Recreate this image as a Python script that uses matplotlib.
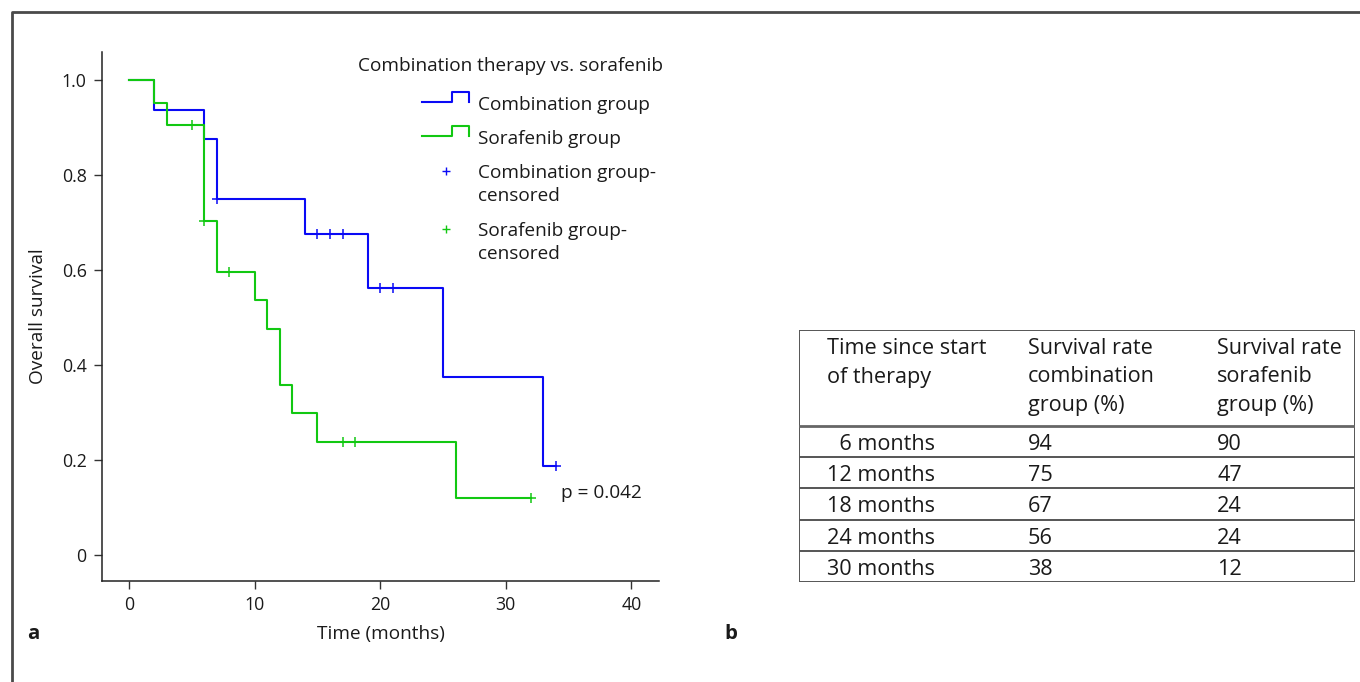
import matplotlib.pyplot as plt
import numpy as np
from matplotlib.lines import Line2D

plt.rcParams["font.family"] = ["Open Sans", "DejaVu Sans"]

# Kaplan-Meier curves: event times (months) and survival after each step
combo_times = [0, 2, 6, 7, 14, 19, 25, 33, 34]
combo_surv = [1.0, 0.9375, 0.875, 0.75, 0.675, 0.5625, 0.375, 0.1875, 0.1875]
combo_censored = [7, 15, 16, 17, 20, 21, 34]

sora_times = [0, 2, 3, 6, 7, 10, 11, 12, 13, 15, 26, 32]
sora_surv = [1.0, 0.952, 0.905, 0.704, 0.595, 0.536, 0.476, 0.357, 0.298, 0.238, 0.119, 0.119]
sora_censored = [5, 6, 8, 17, 18, 32]

p_value = 0.042

# survival table (panel b)
table_header = [
    "Time since start\nof therapy",
    "Survival rate\ncombination\ngroup (%)",
    "Survival rate\nsorafenib\ngroup (%)",
]
table_months = [6, 12, 18, 24, 30]
table_combo = [94, 75, 67, 56, 38]
table_sora = [90, 47, 24, 24, 12]

BLUE = "#0a0af5"
GREEN = "#12c812"
TEXT = "#1a1a1a"
FS = 13.7        # labels and legend
FS_TICK = 12.8
FS_TAB = 15.6

W, H = 1360, 682
fig = plt.figure(figsize=(W / 100, H / 100), dpi=100)


def fx(x):
    return x / W


def fy(y):
    return 1 - y / H


def surv_at(times, surv, t):
    idx = np.searchsorted(times, t, side="right") - 1
    return np.asarray(surv)[idx]


# outer frame (top and left edges only)
fig.add_artist(Line2D([fx(12), fx(12), 1], [0, fy(12), fy(12)], color="#4a4a4a", lw=2))

# ---- panel a: survival curves
ax = fig.add_axes([fx(102), fy(581), fx(659) - fx(102), fy(52) - fy(581)])
ax.step(combo_times, combo_surv, where="post", color=BLUE, lw=1.5)
ax.step(sora_times, sora_surv, where="post", color=GREEN, lw=1.5)
ax.plot(combo_censored, surv_at(combo_times, combo_surv, combo_censored),
        ls="none", marker="+", ms=7, mew=1.1, color=BLUE)
ax.plot(sora_censored, surv_at(sora_times, sora_surv, sora_censored),
        ls="none", marker="+", ms=7, mew=1.1, color=GREEN)

ax.set_xlim(-2.15, 42.2)
ax.set_ylim(-0.055, 1.059)
ax.set_xticks([0, 10, 20, 30, 40])
ax.set_yticks([0, 0.2, 0.4, 0.6, 0.8, 1.0])
ax.set_yticklabels(["0", "0.2", "0.4", "0.6", "0.8", "1.0"])
for side in ["top", "right"]:
    ax.spines[side].set_visible(False)
for side in ["left", "bottom"]:
    ax.spines[side].set_color("#222222")
    ax.spines[side].set_linewidth(1.1)
ax.tick_params(length=6, width=1, color="#333333", labelsize=FS_TICK, labelcolor=TEXT, pad=5)

ax.text(34.4, 0.12, f"p = {p_value}", fontsize=FS, color=TEXT, va="baseline")

fig.text(fx(38), fy(316), "Overall survival", rotation=90, ha="center", va="center",
         fontsize=FS, color=TEXT)
fig.text(fx(381), fy(634), "Time (months)", ha="center", va="center", fontsize=FS, color=TEXT)
fig.text(fx(27), fy(634), "a", fontsize=FS + 1, fontweight="bold", va="center", color=TEXT)
fig.text(fx(724), fy(634), "b", fontsize=FS + 1, fontweight="bold", va="center", color=TEXT)

# legend drawn by hand: step handles and censor crosses
fig.text(fx(358), fy(71), "Combination therapy vs. sorafenib", fontsize=FS,
         va="baseline", color=TEXT)
legend_rows = [
    ("step", BLUE, ["Combination group"], 110),
    ("step", GREEN, ["Sorafenib group"], 144),
    ("cross", BLUE, ["Combination group-", "censored"], 178),
    ("cross", GREEN, ["Sorafenib group-", "censored"], 236),
]
for kind, color, lines, base in legend_rows:
    if kind == "step":
        hx = [422, 452, 452, 469, 469]
        hy = [base - 8, base - 8, base - 18, base - 18, base - 8]
        fig.add_artist(Line2D([fx(v) for v in hx], [fy(v) for v in hy], color=color, lw=1.5))
    else:
        fig.add_artist(Line2D([fx(446)], [fy(base - 7)], ls="none", marker="+", ms=6,
                              mew=1, color=color))
    for i, line in enumerate(lines):
        fig.text(fx(478), fy(base + 23 * i), line, fontsize=FS, va="baseline", color=TEXT)

# ---- panel b: table
tx0, ty0, tx1, ty1 = 799, 330, 1355, 582
tab = fig.add_axes([fx(tx0), fy(ty1), fx(tx1) - fx(tx0), fy(ty0) - fy(ty1)])
tab.set_xlim(0, tx1 - tx0)
tab.set_ylim(ty1 - ty0, 0)
tab.axis("off")

header_h = 96
row_h = (ty1 - ty0 - header_h) / len(table_months)
col_x = [28, 229, 418]
edge = dict(color="#555555", lw=1.4)

tab.plot([0, tx1 - tx0, tx1 - tx0, 0, 0], [0, 0, ty1 - ty0, ty1 - ty0, 0], **edge)
tab.axhline(header_h, color="#666666", lw=2)
for i in range(1, len(table_months)):
    tab.axhline(header_h + i * row_h, **edge)

for cx, head in zip(col_x, table_header):
    for j, line in enumerate(head.split("\n")):
        tab.text(cx, 24 + 28.5 * j, line, fontsize=FS_TAB, va="baseline", color=TEXT)

for i, (m, c, s) in enumerate(zip(table_months, table_combo, table_sora)):
    yb = header_h + i * row_h + 24
    label = f"\u2007{m} months" if m < 10 else f"{m} months"
    tab.text(col_x[0], yb, label, fontsize=FS_TAB, va="baseline", color=TEXT)
    tab.text(col_x[1], yb, str(c), fontsize=FS_TAB, va="baseline", color=TEXT)
    tab.text(col_x[2], yb, str(s), fontsize=FS_TAB, va="baseline", color=TEXT)

fig.savefig("out.png", dpi=100)
